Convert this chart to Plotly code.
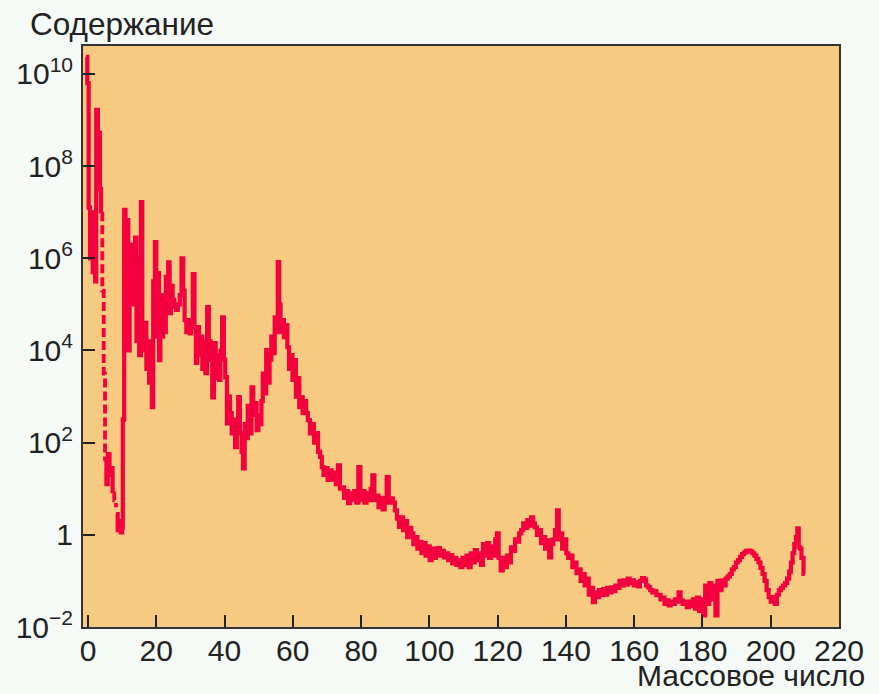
import plotly.graph_objects as go

# ---- data: (mass number, log10 of abundance) ----
seg_light = [(-0.6, 10.37), (-0.2, 9.8), (0.2, 7.1), (0.6, 6.0), (1.0, 7.0), (1.4, 5.7),
             (1.8, 6.8), (2.1, 5.5), (2.4, 9.22), (2.9, 8.0), (3.2, 8.72), (3.5, 7.5), (3.8, 6.97)]
dash_a = [(3.8, 6.97), (4.2, 5.3), (4.6, 3.5), (5.0, 1.6)]
seg_libeb = [(5.0, 1.6), (5.4, 1.1), (5.8, 1.75), (6.3, 1.3), (6.8, 1.45), (7.2, 0.9)]
dash_b = [(7.2, 0.9), (7.7, 0.75), (8.2, 0.6)]
seg_main = [
    (8.2, 0.45), (8.7, 0.1), (9.2, 0.3), (9.6, 0.05), (10.0, 0.15), (10.2, 2.5), (10.6, 7.05),
    (11.0, 5.2), (11.4, 6.83), (11.8, 4.0), (12.2, 6.3), (12.6, 5.2), (13.0, 6.1), (13.4, 5.0),
    (13.8, 6.45), (14.2, 4.2), (14.6, 6.0), (15.0, 3.9), (15.5, 7.22), (15.9, 4.6), (16.3, 4.0),
    (16.7, 4.6), (17.1, 3.6), (17.5, 4.2), (17.9, 3.3), (18.3, 3.8), (18.7, 2.77), (19.1, 5.5),
    (19.6, 6.35), (20.0, 4.3), (20.4, 5.68), (20.8, 3.79), (21.2, 5.2), (21.6, 4.3), (22.0, 5.0),
    (22.4, 4.4), (22.8, 5.6), (23.2, 4.9), (23.5, 5.91), (23.9, 4.81), (24.3, 5.4), (24.8, 5.1),
    (25.3, 4.95), (25.8, 4.88), (26.3, 5.0), (26.9, 5.2), (27.4, 6.0), (27.9, 5.3), (28.3, 4.66),
    (28.8, 4.4), (29.3, 4.66), (29.8, 4.37), (30.2, 4.6), (30.7, 5.66), (31.2, 4.5), (31.6, 3.73),
    (32.0, 4.51), (32.5, 3.9), (33.0, 4.3), (33.5, 3.6), (34.0, 4.2), (34.4, 3.51), (34.9, 4.94),
    (35.4, 4.2), (35.9, 3.8), (36.4, 2.98), (36.9, 4.16), (37.4, 3.4), (37.9, 3.9), (38.4, 3.36),
    (38.8, 4.0), (39.3, 4.72), (39.8, 3.8), (40.2, 3.42), (40.7, 2.42), (41.1, 3.0), (41.6, 2.64),
    (42.1, 2.2), (42.6, 2.5), (43.1, 1.9), (43.6, 2.3), (44.0, 2.99), (44.5, 2.2), (45.0, 1.8),
    (45.4, 1.44), (45.9, 2.4), (46.4, 2.1), (46.8, 2.8), (47.4, 2.2), (47.9, 3.2), (48.4, 2.6),
    (48.9, 2.86), (49.4, 2.27), (49.9, 2.6), (50.4, 2.4), (50.8, 2.9), (51.2, 3.5), (51.7, 3.07),
    (52.2, 4.01), (52.7, 3.3), (53.2, 3.8), (53.7, 4.3), (54.2, 3.94), (54.7, 4.72), (55.2, 4.4),
    (55.6, 5.92), (56.0, 5.0), (56.4, 4.4), (56.9, 4.66), (57.4, 4.29), (57.9, 4.55), (58.4, 4.07),
    (58.9, 3.6), (59.4, 3.9), (59.9, 3.36), (60.4, 3.79), (60.9, 3.0), (61.4, 3.4), (61.9, 2.77),
    (62.4, 2.99), (62.9, 2.64), (63.4, 2.9), (63.9, 2.64), (64.4, 2.49), (65.0, 2.2), (65.6, 2.4),
    (66.2, 2.0), (66.8, 2.21), (67.4, 1.8), (68.0, 1.69), (68.5, 1.47), (69.0, 1.3), (69.6, 1.45),
    (70.2, 1.19), (70.8, 1.4), (71.4, 1.2), (72.0, 1.35), (72.6, 1.1), (73.2, 1.51), (73.8, 1.0),
    (74.4, 1.03), (75.0, 0.8), (75.6, 0.95), (76.2, 0.69), (76.8, 0.9), (77.4, 0.75), (78.0, 0.95),
    (78.6, 0.7), (79.2, 1.47), (79.8, 0.75), (80.4, 0.95), (81.0, 0.7), (81.6, 0.9), (82.2, 0.75),
    (82.8, 1.0), (83.3, 1.29), (83.9, 0.75), (84.5, 0.85), (85.1, 0.6), (85.7, 0.8), (86.3, 0.55),
    (86.9, 0.75), (87.5, 1.25), (88.1, 0.7), (88.7, 0.79), (89.3, 0.7), (89.9, 0.53), (90.5, 0.35),
    (91.1, 0.17), (91.7, 0.38), (92.3, 0.1), (92.9, 0.3), (93.5, -0.05), (94.1, 0.15), (94.7, 0.03),
    (95.3, -0.2), (95.9, -0.05), (96.5, -0.3), (97.1, -0.15), (97.7, -0.4), (98.3, -0.18),
    (98.9, -0.45), (99.5, -0.25), (100.1, -0.55), (100.7, -0.3), (101.3, -0.5), (101.9, -0.35),
    (102.5, -0.29), (103.1, -0.45), (103.7, -0.35), (104.3, -0.49), (104.9, -0.4), (105.5, -0.55),
    (106.1, -0.44), (106.7, -0.62), (107.3, -0.5), (107.9, -0.65), (108.5, -0.55), (109.1, -0.7),
    (109.7, -0.5), (110.3, -0.65), (110.9, -0.45), (111.5, -0.7), (112.1, -0.4), (112.7, -0.6),
    (113.3, -0.33), (113.9, -0.55), (114.5, -0.4), (115.1, -0.65), (115.7, -0.2), (116.3, -0.45),
    (116.9, -0.18), (117.5, -0.5), (118.1, -0.25), (118.7, -0.45), (119.3, -0.1), (119.8, 0.03),
    (120.3, -0.5), (120.9, -0.77), (121.5, -0.5), (122.1, -0.7), (122.7, -0.45), (123.3, -0.6),
    (123.9, -0.27), (124.5, -0.35), (125.1, -0.1), (125.7, -0.15), (126.3, 0.03), (126.9, 0.1),
    (127.5, 0.25), (128.1, 0.15), (128.7, 0.32), (129.3, 0.2), (129.8, 0.38), (130.4, 0.25),
    (130.9, 0.16), (131.5, 0.0), (132.1, 0.1), (132.7, -0.18), (133.3, -0.05), (133.9, -0.3),
    (134.5, -0.12), (135.1, -0.49), (135.7, -0.2), (136.3, -0.1), (136.8, 0.1), (137.4, 0.53),
    (137.9, -0.1), (138.4, 0.03), (138.9, -0.3), (139.5, -0.1), (140.1, -0.4), (140.7, -0.5),
    (141.3, -0.45), (141.9, -0.7), (142.5, -0.6), (143.1, -0.83), (143.7, -0.75), (144.3, -1.0),
    (144.9, -0.85), (145.5, -1.1), (146.1, -0.95), (146.7, -1.3), (147.3, -1.15), (147.9, -1.46),
    (148.5, -1.25), (149.1, -1.35), (149.7, -1.2), (150.3, -1.31), (150.9, -1.18), (151.5, -1.3),
    (152.1, -1.15), (152.7, -1.25), (153.3, -1.14), (153.9, -1.22), (154.5, -1.1), (155.1, -1.15),
    (155.7, -1.0), (156.3, -1.1), (156.9, -0.99), (157.5, -1.08), (158.1, -0.95), (158.7, -1.05),
    (159.3, -0.99), (159.9, -1.1), (160.5, -1.03), (161.1, -1.12), (161.7, -1.0), (162.3, -0.94),
    (162.9, -0.97), (163.5, -1.1), (164.1, -1.14), (164.7, -1.2), (165.3, -1.25), (165.9, -1.22),
    (166.5, -1.31), (167.1, -1.3), (167.7, -1.4), (168.3, -1.36), (168.9, -1.5), (169.5, -1.42),
    (170.1, -1.53), (170.7, -1.45), (171.3, -1.5), (171.9, -1.4), (172.5, -1.45), (173.0, -1.25),
    (173.6, -1.42), (174.2, -1.5), (174.8, -1.45), (175.4, -1.57), (176.0, -1.45), (176.6, -1.55),
    (177.2, -1.4), (177.8, -1.6), (178.4, -1.36), (179.0, -1.65), (179.6, -1.4), (180.2, -1.75),
    (180.8, -1.1), (181.4, -1.5), (182.0, -1.05), (182.6, -1.4), (183.2, -1.1), (183.8, -1.75),
    (184.4, -1.0), (185.0, -1.2), (185.6, -0.99), (186.2, -1.1), (186.8, -0.95), (187.4, -0.9),
    (188.0, -0.85), (188.6, -0.75), (189.2, -0.7), (189.8, -0.6), (190.4, -0.55), (191.0, -0.48),
    (191.6, -0.42), (192.2, -0.38), (192.8, -0.35), (193.4, -0.34), (194.0, -0.36), (194.6, -0.4),
    (195.2, -0.45), (195.8, -0.52), (196.4, -0.6), (197.0, -0.72), (197.6, -0.85), (198.2, -1.0),
    (198.8, -1.2), (199.4, -1.35), (200.0, -1.45), (200.6, -1.35), (201.2, -1.5), (201.8, -1.3),
    (202.4, -1.2), (203.0, -1.15), (203.6, -1.1), (204.2, -1.05), (204.8, -0.95), (205.4, -0.8),
    (205.9, -0.6), (206.4, -0.4), (206.9, -0.2), (207.4, -0.05), (207.8, 0.14), (208.2, -0.27),
    (208.6, -0.3), (209.0, -0.5), (209.6, -0.85), (210.0, -0.85),
]

x_ticks = [0, 20, 40, 60, 80, 100, 120, 140, 160, 180, 200, 220]
y_tick_exp = [-2, 0, 2, 4, 6, 8, 10]
y_tick_text = ["10<sup>\u22122</sup>", "1", "10<sup>2</sup>", "10<sup>4</sup>",
               "10<sup>6</sup>", "10<sup>8</sup>", "10<sup>10</sup>"]

title_text = "Содержание"
xlabel_text = "Массовое число"

FONT = "Liberation Sans, Arial, Helvetica, sans-serif"
RED = "#F4003F"


def join(segments):
    xs, ys = [], []
    for i, seg in enumerate(segments):
        if i:
            xs.append(None)
            ys.append(None)
        for a, l in seg:
            xs.append(a)
            ys.append(10 ** l)
    return xs, ys


sx, sy = join([seg_light, seg_libeb, seg_main])
dx, dy = join([dash_a, dash_b])

fig = go.Figure()
fig.add_trace(go.Scatter(x=sx, y=sy, mode="lines", line=dict(color=RED, width=4.2, shape="hv"),
                         connectgaps=False, showlegend=False, hoverinfo="skip"))
fig.add_trace(go.Scatter(x=dx, y=dy, mode="lines",
                         line=dict(color=RED, width=3.8, shape="hv", dash="9px,4px"),
                         connectgaps=False, showlegend=False, hoverinfo="skip"))

axis_common = dict(showgrid=False, zeroline=False, showline=True, linecolor="#333333",
                   linewidth=2, mirror=True, ticks="inside", ticklen=12, tickwidth=1.5,
                   tickcolor="#222222", tickfont=dict(family=FONT, size=30, color="#222222"))

fig.update_xaxes(range=[-1.46, 220], tickmode="array", tickvals=x_ticks,
                 ticktext=[str(v) for v in x_ticks], ticklabelstandoff=-4, **axis_common)
fig.update_yaxes(type="log", range=[-2, 10.607], tickmode="array",
                 tickvals=[10 ** e for e in y_tick_exp], ticktext=y_tick_text,
                 ticklabelstandoff=2, **axis_common)

fig.add_annotation(text=title_text, xref="paper", yref="paper", x=-0.073, y=1.038,
                   xanchor="left", yanchor="middle", showarrow=False,
                   font=dict(family=FONT, size=31.5, color="#222222"))
fig.add_annotation(text=xlabel_text, xref="paper", yref="paper", x=1.037, y=-0.1153,
                   xanchor="right", yanchor="bottom", showarrow=False,
                   font=dict(family=FONT, size=30, color="#222222"))

fig.update_layout(width=879, height=694, margin=dict(l=83, r=40, t=46, b=67),
                  paper_bgcolor="#F6FAF7", plot_bgcolor="#F6CA80",
                  font=dict(family=FONT))

fig.write_html("out.html", config={"displayModeBar": False},
               post_script="document.body.style.margin='0';document.body.style.overflow='hidden';")
